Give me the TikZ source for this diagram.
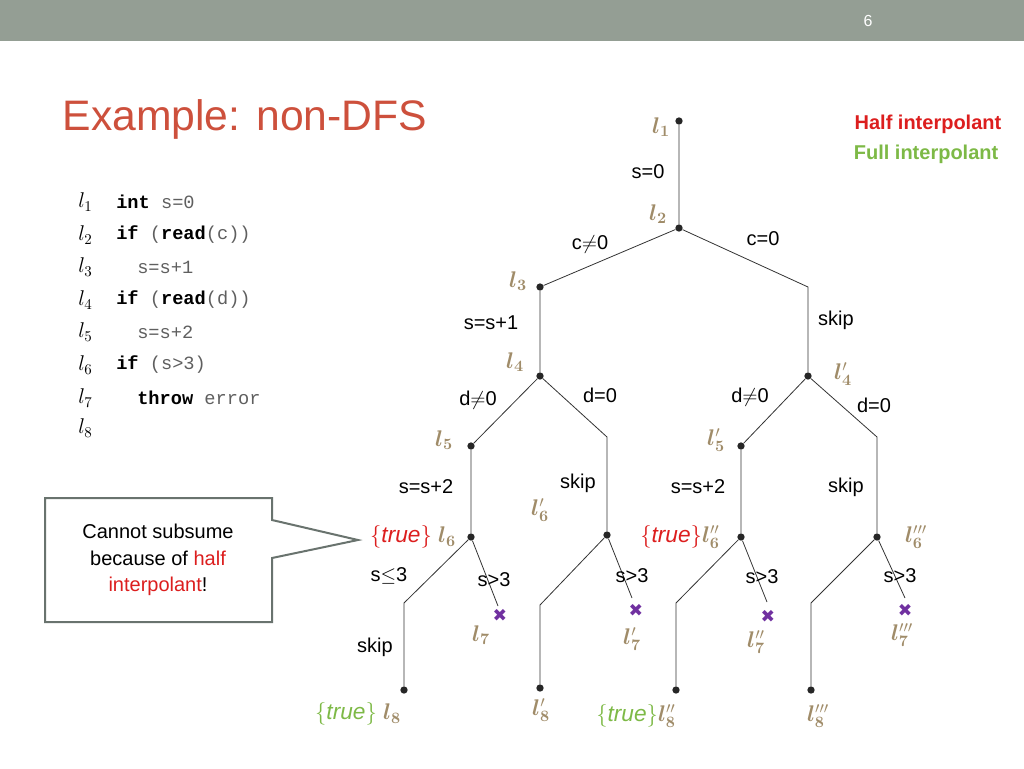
\RequirePackage{fix-cm}
\documentclass[tikz,border=0pt]{standalone}
\usepackage{fontspec}
\usepackage{bm}
\setmainfont{Liberation Sans}
\setmonofont{Liberation Mono}
\newfontfamily\symf{DejaVu Sans}
\definecolor{tan}{RGB}{160,140,105}
\definecolor{hred}{RGB}{220,30,30}
\definecolor{fgreen}{RGB}{125,185,70}
\definecolor{bar}{RGB}{148,158,148}
\definecolor{ttl}{RGB}{205,80,60}
\definecolor{cx}{RGB}{112,48,160}
\definecolor{codeg}{RGB}{95,95,95}
\begin{document}
\begin{tikzpicture}[x=0.75pt,y=-0.75pt,
  dotn/.style={circle,fill=black!85,inner sep=0pt,minimum size=5.5pt},
  cor/.style={coordinate},
  edge/.style={draw=black!80,line width=0.6pt},
  lab/.style={font=\fontsize{15}{17}\selectfont,inner sep=1pt},
  ll/.style={text=tan,font=\fontsize{17}{19}\selectfont,inner sep=1pt},
  xm/.style={text=cx,font=\fontsize{13}{13}\selectfont\symf,inner sep=0pt},
  codel/.style={anchor=west,font=\fontsize{14}{16}\selectfont\ttfamily,text=codeg,inner sep=0pt},
  lnum/.style={anchor=west,font=\fontsize{16}{18}\selectfont,inner sep=0pt}]
\useasboundingbox (0,0) rectangle (1024,768);
\fill[bar] (0,0) rectangle (1024,41);
\node[text=white,font=\fontsize{12}{14}\selectfont] (pg) at (868,21) {6};
\node[anchor=west,text=ttl,font=\fontsize{32}{36}\selectfont] (title) at (58,119) {Example: non-DFS};
\node[anchor=east,text=hred,font=\fontsize{15}{17}\selectfont\bfseries] (hi) at (1006,124) {Half interpolant};
\node[anchor=east,text=fgreen,font=\fontsize{15}{17}\selectfont\bfseries] (fi) at (1003,154) {Full interpolant};
% code
\foreach \i/\y in {1/202,2/235,3/267,4/300,5/332,6/365,7/398,8/428}
  \node[lnum] (ln\i) at (78,\y) {$l_{\i}$};
\node[codel] (c1) at (116,202) {{\color{black}\bfseries int} s=0};
\node[codel] (c2) at (116,235) {{\color{black}\bfseries if} ({\color{black}\bfseries read}(c))};
\node[codel] (c3) at (137,267) {s=s+1};
\node[codel] (c4) at (116,300) {{\color{black}\bfseries if} ({\color{black}\bfseries read}(d))};
\node[codel] (c5) at (137,332) {s=s+2};
\node[codel] (c6) at (116,365) {{\color{black}\bfseries if} (s>3)};
\node[codel] (c7) at (137,398) {{\color{black}\bfseries throw} error};
% tree nodes
\node[dotn] (l1) at (679,121) {};
\node[dotn] (l2) at (679,228) {};
\node[dotn] (l3) at (540,287) {};
\node[cor] (r2) at (808,287) {};
\node[dotn] (l4) at (540,376) {};
\node[dotn] (l4p) at (808,376) {};
\node[dotn] (l5) at (471,446) {};
\node[cor] (r4) at (607,437) {};
\node[dotn] (l6) at (471,537) {};
\node[dotn] (l6p) at (607,535) {};
\node[cor] (a6) at (404,603) {};
\node[dotn] (l8) at (404,690) {};
\node[cor] (b6) at (498,606) {};
\node[cor] (a6p) at (540,605) {};
\node[dotn] (l8p) at (540,688) {};
\node[cor] (b6p) at (632,598) {};
\node[dotn] (l5p) at (741,446) {};
\node[cor] (r4p) at (877,437) {};
\node[dotn] (l6pp) at (741,537) {};
\node[dotn] (l6ppp) at (877,537) {};
\node[cor] (a6pp) at (676,603) {};
\node[dotn] (l8pp) at (676,690) {};
\node[cor] (b6pp) at (767,602) {};
\node[cor] (a6ppp) at (811,603) {};
\node[dotn] (l8ppp) at (811,690) {};
\node[cor] (b6ppp) at (905,598) {};
\draw[edge] (l1) -- (l2) -- (l3) -- (l4) -- (l5) -- (l6) -- (a6) -- (l8);
\draw[edge] (l2) -- (r2) -- (l4p) -- (l5p) -- (l6pp) -- (a6pp) -- (l8pp);
\draw[edge] (l4) -- (r4) -- (l6p) -- (a6p) -- (l8p);
\draw[edge] (l4p) -- (r4p) -- (l6ppp) -- (a6ppp) -- (l8ppp);
\draw[edge] (l6) -- (b6); \draw[edge] (l6p) -- (b6p);
\draw[edge] (l6pp) -- (b6pp); \draw[edge] (l6ppp) -- (b6ppp);
% crosses
\node[xm] (x7) at (500,615) {✖};
\node[xm] (x7p) at (636,610) {✖};
\node[xm] (x7pp) at (768,616) {✖};
\node[xm] (x7ppp) at (905,610) {✖};
% edge labels
\node[lab] (e1) at (648,172) {s=0};
\node[lab] (e2) at (590,244) {c$\neq$0};
\node[lab] (e3) at (763,239) {c=0};
\node[lab] (e4) at (491,323) {s=s+1};
\node[lab] (e5) at (836,320) {skip};
\node[lab] (e6) at (478,400) {d$\neq$0};
\node[lab] (e7) at (600,395) {d=0};
\node[lab] (e8) at (750,397) {d$\neq$0};
\node[lab] (e9) at (874,405) {d=0};
\node[lab] (e10) at (426,487) {s=s+2};
\node[lab] (e11) at (578,483) {skip};
\node[lab] (e12) at (698,487) {s=s+2};
\node[lab] (e13) at (846,487) {skip};
\node[lab] (e14) at (389,576) {s$\leq$3};
\node[lab] (e15) at (494,580) {s>3};
\node[lab] (e16) at (632,576) {s>3};
\node[lab] (e17) at (762,577) {s>3};
\node[lab] (e18) at (900,576) {s>3};
\node[lab] (e19) at (375,647) {skip};
% location labels
\node[ll] (t1) at (661,127) {$\bm{l_1}$};
\node[ll] (t2) at (658,214) {$\bm{l_2}$};
\node[ll] (t3) at (518,281) {$\bm{l_3}$};
\node[ll] (t4) at (515,362) {$\bm{l_4}$};
\node[ll] (t4p) at (843,374) {$\bm{l_4}'$};
\node[ll] (t5) at (444,440) {$\bm{l_5}$};
\node[ll] (t5p) at (716,440) {$\bm{l_5}'$};
\node[ll] (t6) at (413,537) {\textcolor{hred}{$\{\mathit{true}\}$} $\bm{l_6}$};
\node[ll] (t6p) at (540,510) {$\bm{l_6}'$};
\node[ll] (t6pp) at (680,537) {\textcolor{hred}{$\{\mathit{true}\}$}$\bm{l_6}''$};
\node[ll] (t6ppp) at (916,537) {$\bm{l_6}'''$};
\node[ll] (t7) at (481,635) {$\bm{l_7}$};
\node[ll] (t7p) at (632,639) {$\bm{l_7}'$};
\node[ll] (t7pp) at (756,642) {$\bm{l_7}''$};
\node[ll] (t7ppp) at (902,635) {$\bm{l_7}'''$};
\node[ll] (t8) at (358,714) {\textcolor{fgreen}{$\{\mathit{true}\}$} $\bm{l_8}$};
\node[ll] (t8p) at (541,710) {$\bm{l_8}'$};
\node[ll] (t8pp) at (636,716) {\textcolor{fgreen}{$\{\mathit{true}\}$}$\bm{l_8}''$};
\node[ll] (t8ppp) at (818,716) {$\bm{l_8}'''$};
% callout
\draw[draw={rgb,255:red,105;green,115;blue,110},line width=1.5pt,fill=white,line join=miter]
  (45,498) -- (272,498) -- (272,520) -- (358,540) -- (272,558) -- (272,622) -- (45,622) -- cycle;
\node[align=center,font=\fontsize{15}{20}\selectfont] (call) at (158,560)
  {Cannot subsume\\because of \textcolor{hred}{half}\\\textcolor{hred}{interpolant}!};
\end{tikzpicture}
\end{document}
